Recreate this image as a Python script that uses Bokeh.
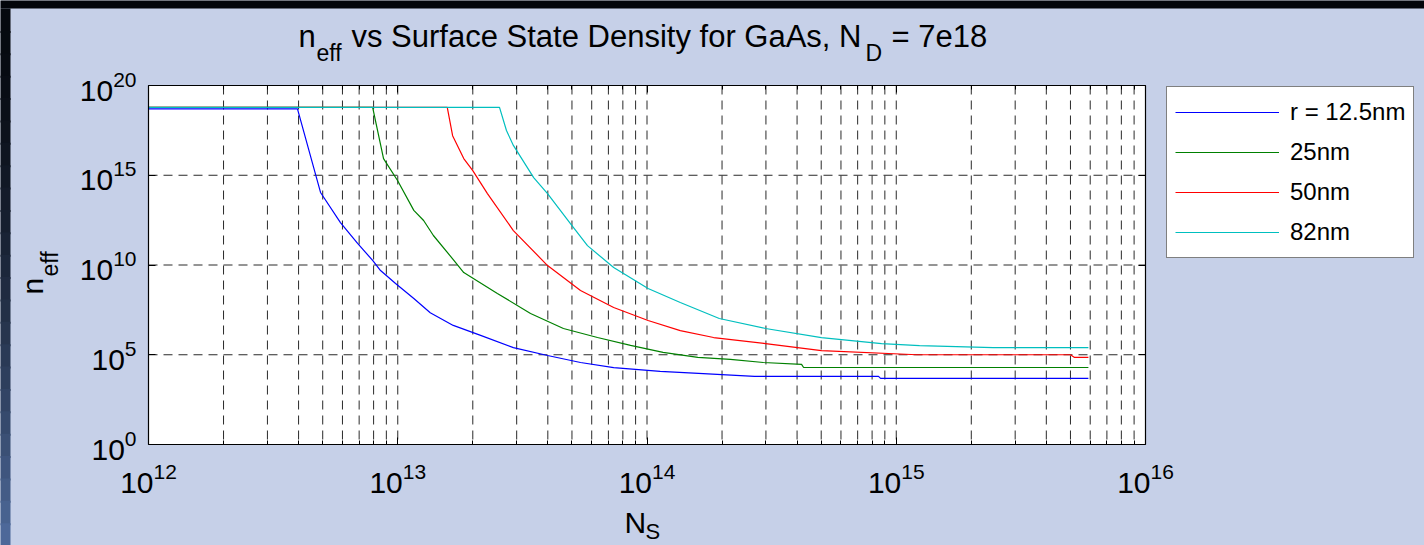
import math
from bokeh.plotting import figure
from bokeh.models import (FixedTicker, LogAxis, Label, Legend, LegendItem,
                          CustomJSTickFormatter, LogTickFormatter, Range1d,
                          BoxAnnotation)
from bokeh.embed import file_html
from bokeh.resources import INLINE

FONT = "Liberation Sans"
BG = "#c6d0e8"

# ---------------- data ----------------
x_decades = [12, 13, 14, 15, 16]
y_decades = [0, 5, 10, 15, 20]
x_minor_mult = [2, 3, 4, 5, 6, 7, 8, 9]

series_names = ["r = 12.5nm", "25nm", "50nm", "82nm"]
series_colors = ["#0000ff", "#008000", "#ff0000", "#00bfbf"]

blue_ns = [1.0e12, 3.96e12, 4.90e12, 5.89e12, 6.90e12, 7.93e12, 8.53e12, 9.80e12,
           1.16e13, 1.35e13, 1.67e13, 2.15e13, 2.91e13, 3.99e13, 5.41e13, 7.35e13,
           1.13e14, 1.61e14, 2.70e14, 8.49e14, 8.65e14, 5.90e15]
blue_n = [5.0e18, 5.0e18, 1.1e14, 2.3e12, 1.6e11, 1.8e10, 4.9e9, 9.3e8,
          1.35e8, 2.2e7, 4.3e6, 1.2e6, 2.5e5, 9.1e4, 3.7e4, 1.9e4,
          1.2e4, 9.1e3, 6.2e3, 6.2e3, 4.8e3, 4.8e3]

green_ns = [1.0e12, 7.93e12, 8.77e12, 9.98e12, 1.16e13, 1.27e13, 1.39e13, 1.67e13,
            1.84e13, 2.51e13, 3.41e13, 4.62e13, 6.33e13, 8.59e13, 1.16e14, 1.60e14,
            2.16e14, 2.93e14, 4.17e14, 4.25e14, 5.90e15]
green_n = [6.0e18, 6.0e18, 8.5e15, 5.1e14, 1.1e13, 3.0e12, 4.4e11, 2.0e10,
           3.8e9, 2.6e8, 2.0e7, 2.9e6, 9.1e5, 3.3e5, 1.35e5, 7.1e4,
           5.5e4, 3.7e4, 2.9e4, 1.95e4, 1.95e4]

red_ns = [1.0e12, 1.58e13, 1.66e13, 1.84e13, 2.00e13, 2.29e13, 2.91e13, 3.99e13,
          5.41e13, 7.35e13, 1.01e14, 1.36e14, 1.85e14, 2.99e14, 5.01e14, 1.21e15,
          5.00e15, 5.19e15, 5.90e15]
red_n = [6.0e18, 6.0e18, 1.6e17, 8.5e15, 1.8e15, 9.5e13, 8.3e11, 9.3e9,
         3.8e8, 4.3e7, 8.1e6, 2.2e6, 9.1e5, 4.2e5, 1.7e5, 1.0e5,
         1.0e5, 7.1e4, 7.1e4]

cyan_ns = [1.0e12, 2.56e13, 2.73e13, 2.91e13, 3.51e13, 3.99e13, 4.93e13, 5.77e13,
           7.35e13, 1.01e14, 1.36e14, 1.95e14, 2.99e14, 5.01e14, 8.73e14, 1.24e15,
           2.45e15, 5.90e15]
cyan_n = [6.0e18, 6.0e18, 3.1e17, 4.6e16, 7.4e14, 9.5e13, 2.0e12, 1.2e11,
          7.2e9, 4.9e8, 8.1e7, 1.05e7, 2.9e6, 9.1e5, 4.2e5, 3.2e5,
          2.5e5, 2.5e5]

series_x = [blue_ns, green_ns, red_ns, cyan_ns]
series_y = [blue_n, green_n, red_n, cyan_n]

# ---------------- geometry (pixels of the page) ----------------
W, H = 1424, 545
BOX_L, BOX_R, BOX_T, BOX_B = 148, 1145, 85, 444
XMIN, XMAX = 10.0 ** x_decades[0], 10.0 ** x_decades[-1]
YMIN, YMAX = 10.0 ** y_decades[0], 10.0 ** y_decades[-1]
xd_per_px = (x_decades[-1] - x_decades[0]) / (BOX_R - BOX_L)
yd_per_px = (y_decades[-1] - y_decades[0]) / (BOX_B - BOX_T)

def xdata(px):
    return 10.0 ** (x_decades[0] + (px - BOX_L) * xd_per_px)

def ydata(py):
    return 10.0 ** (y_decades[0] + (BOX_B - py) * yd_per_px)

p = figure(width=W, height=H, x_axis_type="log", y_axis_type="log",
           x_axis_location=None, y_axis_location=None,
           x_range=Range1d(xdata(0), xdata(W)), y_range=Range1d(ydata(H), ydata(0)),
           min_border=0, min_border_left=0, min_border_right=0,
           min_border_top=0, min_border_bottom=0,
           output_backend="svg", toolbar_location=None,
           background_fill_color=BG, border_fill_color=BG)
p.outline_line_color = None
p.grid.visible = False

# slide background strips (decoration)
NB = 24
for i in range(NB):
    t = (i + 0.5) / NB
    t2 = t ** 1.6
    c = (int(6 + (80 - 6) * t2), int(9 + (108 - 9) * t2), int(15 + (158 - 15) * t2))
    p.add_layout(BoxAnnotation(left=xdata(-2), right=xdata(10),
                               bottom=ydata(min(H + 2, 8 + (H - 8) * (i + 1) / NB + 2)),
                               top=ydata(8 + (H - 8) * i / NB),
                               fill_color="#%02x%02x%02x" % c, fill_alpha=1.0,
                               line_color=None, level="image"))
p.add_layout(BoxAnnotation(left=xdata(-2), right=xdata(W + 2), bottom=ydata(8), top=ydata(-2),
                           fill_color="#03050a", fill_alpha=1.0, line_color=None,
                           level="image"))

# white axes box
p.add_layout(BoxAnnotation(left=XMIN, right=XMAX, bottom=YMIN, top=YMAX,
                           fill_color="white", fill_alpha=1.0, line_color=None,
                           level="image"))

x_ticks = [10.0 ** k for k in x_decades]
x_minor = [m * 10.0 ** k for k in x_decades[:-1] for m in x_minor_mult]
y_ticks = [10.0 ** k for k in y_decades]

# dashed grid (major + minor on x, major on y)
GRID = "#2a2a2a"
gx = x_ticks[1:-1] + x_minor
p.segment(x0=gx, y0=[YMAX] * len(gx), x1=gx, y1=[YMIN] * len(gx),
          line_color=GRID, line_width=1, line_dash="9 6")
gy = y_ticks[1:-1]
p.segment(x0=[XMIN] * len(gy), y0=gy, x1=[XMAX] * len(gy), y1=gy,
          line_color=GRID, line_width=1, line_dash="9 6")

# series
items = []
for name, col, xs, ys in zip(series_names, series_colors, series_x, series_y):
    r = p.line(xs, ys, line_color=col, line_width=1.2)
    items.append(LegendItem(label=name, renderers=[r]))

# axes drawn on the box edges
xt = FixedTicker(ticks=x_ticks, minor_ticks=x_minor)
yt = FixedTicker(ticks=y_ticks, minor_ticks=[])
blank = CustomJSTickFormatter(code="return ''")

def make_axis(ticker, loc, bounds, formatter, standoff):
    return LogAxis(ticker=ticker, fixed_location=loc, bounds=bounds, formatter=formatter,
                   axis_line_color="black", axis_line_width=1.2,
                   major_tick_in=7, major_tick_out=0, minor_tick_in=4, minor_tick_out=0,
                   major_tick_line_color="black", minor_tick_line_color="black",
                   major_label_standoff=standoff,
                   major_label_text_font=FONT, major_label_text_font_size="30px",
                   major_label_text_color="black")

p.add_layout(make_axis(xt, YMIN, (XMIN, XMAX), LogTickFormatter(), 18), "below")
p.add_layout(make_axis(yt, XMIN, (YMIN, YMAX), LogTickFormatter(), 12), "left")
p.add_layout(make_axis(xt, YMAX, (XMIN, XMAX), blank, 0), "above")
p.add_layout(make_axis(yt, XMAX, (YMIN, YMAX), blank, 0), "right")

# legend
legend = Legend(items=items, location=(1166, H - 258),
                label_text_font=FONT, label_text_font_size="24px",
                label_text_color="black", label_text_baseline="middle",
                glyph_width=104, glyph_height=34, label_height=34,
                label_standoff=11, spacing=6, padding=8, margin=0,
                border_line_color="black", border_line_width=1.5,
                background_fill_color="white", background_fill_alpha=1.0)
p.add_layout(legend)

# ---------------- texts (anchored at the vertical middle of each piece) ----------------
def txt(s, px, py, size, angle=0.0):
    p.add_layout(Label(x=xdata(px), y=ydata(py), text=s,
                       text_font=FONT, text_font_size=f"{size}px",
                       text_color="black", text_align="left",
                       text_baseline="middle", angle=angle))

# title (baselines 46 / 60)
txt("n", 298, 35.5, 31)
txt("eff", 316, 52, 23)
txt("vs Surface State Density for GaAs, N", 351, 35.5, 31)
txt("D", 865, 52, 23)
txt("= 7e18", 891, 35.5, 31)
# x label
txt("N", 624, 522, 30)
txt("S", 645, 530.5, 22)
# y label (rotated; baselines x = 42 / 57)
txt("n", 31.5, 294, 30, angle=math.pi / 2)
txt("eff", 49, 276, 23, angle=math.pi / 2)

open("out.html", "w").write(file_html(p, INLINE))
